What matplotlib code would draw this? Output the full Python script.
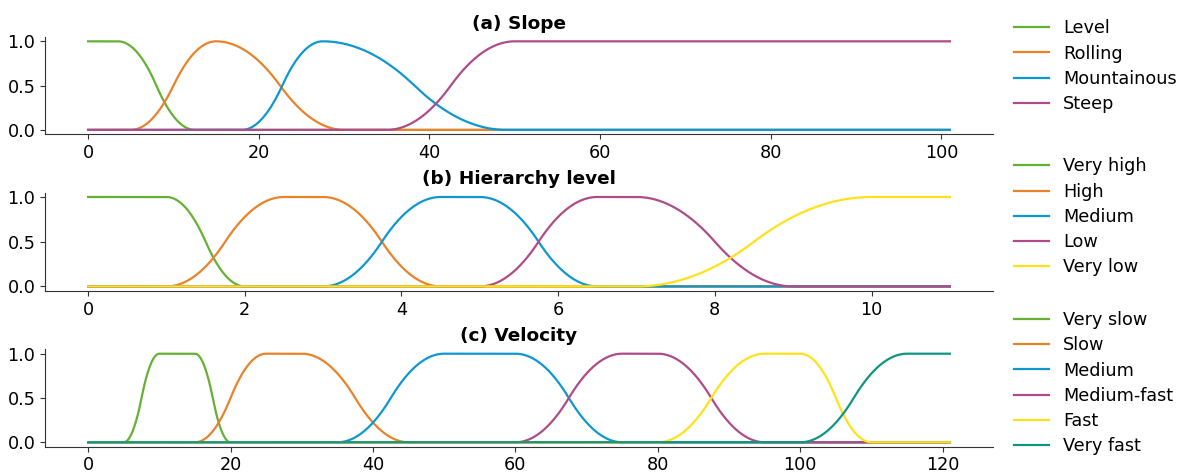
import numpy as np
import matplotlib
matplotlib.use("Agg")
import matplotlib.pyplot as plt

# Membership-function breakpoints
# ('s' = S-shaped, 'z' = Z-shaped, 'pi' = pi-shaped)
SLOPE_NAMES = ["Level", "Rolling", "Mountainous", "Steep"]
SLOPE_PARAMS = [("z", [3.5, 12.5]), ("pi", [5, 15, 15, 30]),
                ("pi", [18, 27.5, 27.5, 49]), ("s", [35, 50])]
SLOPE_MAX = 101

HIER_NAMES = ["Very high", "High", "Medium", "Low", "Very low"]
HIER_PARAMS = [("z", [1, 2]), ("pi", [1, 2.5, 3, 4.5]), ("pi", [3, 4.5, 5, 6.5]),
               ("pi", [5, 6.5, 7, 9]), ("s", [7, 10])]
HIER_MAX = 11

VEL_NAMES = ["Very slow", "Slow", "Medium", "Medium-fast", "Fast", "Very fast"]
VEL_PARAMS = [("pi", [5, 10, 15, 20]), ("pi", [15, 25, 30, 45]), ("pi", [35, 50, 60, 75]),
              ("pi", [60, 75, 80, 95]), ("pi", [80, 95, 100, 110]), ("s", [100, 115])]
VEL_MAX = 121

COLORS = ["#66b035", "#e8832a", "#0f97d1", "#ae4c8a", "#ffe21a", "#0e9680"]
TITLES = ["(a) Slope", "(b) Hierarchy level", "(c) Velocity"]


def smf(x, a, b):
    y = np.zeros_like(x)
    m = (a + b) / 2.0
    i1 = (x > a) & (x <= m)
    i2 = (x > m) & (x < b)
    y[i1] = 2 * ((x[i1] - a) / (b - a)) ** 2
    y[i2] = 1 - 2 * ((x[i2] - b) / (b - a)) ** 2
    y[x >= b] = 1
    return y


def membership(x, kind, p):
    if kind == "s":
        return smf(x, *p)
    if kind == "z":
        return 1 - smf(x, *p)
    return smf(x, p[0], p[1]) * (1 - smf(x, p[2], p[3]))


plt.rcParams["font.family"] = "DejaVu Sans"
plt.rcParams["font.size"] = 12.7
plt.rcParams["axes.edgecolor"] = "#333333"
plt.rcParams["xtick.color"] = "#333333"
plt.rcParams["ytick.color"] = "#333333"
plt.rcParams["xtick.labelcolor"] = "black"
plt.rcParams["ytick.labelcolor"] = "black"

fig = plt.figure(figsize=(11.79, 4.73), dpi=100)
boxes = [(0.0382, 0.716, 0.804, 0.206),
         (0.0382, 0.385, 0.804, 0.208),
         (0.0382, 0.0556, 0.804, 0.206)]
legend_y = [0.974, 0.682, 0.357]
panels = [(SLOPE_NAMES, SLOPE_PARAMS, SLOPE_MAX),
          (HIER_NAMES, HIER_PARAMS, HIER_MAX),
          (VEL_NAMES, VEL_PARAMS, VEL_MAX)]

for k, (names, params, xmax) in enumerate(panels):
    ax = fig.add_axes(boxes[k])
    x = np.linspace(0, xmax, 2001)
    for j, (name, (kind, p)) in enumerate(zip(names, params)):
        ax.plot(x, membership(x, kind, p), color=COLORS[j], lw=1.6, label=name)
    ax.set_title(TITLES[k], fontweight="bold", fontsize=13.3)
    ax.set_ylim(-0.05, 1.05)
    ax.set_yticks([0, 0.5, 1.0])
    ax.spines["top"].set_visible(False)
    ax.spines["right"].set_visible(False)
    ax.legend(loc="upper left", bbox_to_anchor=(0.854, legend_y[k]),
              bbox_transform=fig.transFigure, frameon=False, borderaxespad=0,
              labelspacing=0.41, fontsize=12.7)

fig.savefig("out.png", dpi=100)
